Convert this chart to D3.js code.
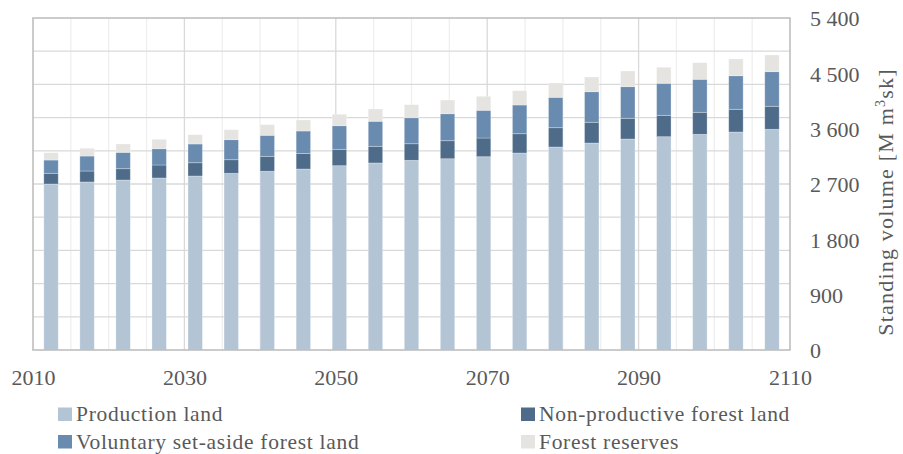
<!DOCTYPE html>
<html>
<head>
<meta charset="utf-8">
<script src="https://cdn.jsdelivr.net/npm/d3@7"></script>
<style>
  html, body { margin: 0; padding: 0; background: #ffffff; }
  svg { display: block; }
  text { font-family: "Liberation Serif", "DejaVu Serif", serif; fill: #595959; }
</style>
</head>
<body>
<svg id="chart" width="903" height="454"></svg>
<script>
// Five-year periods 2010–2110
const periods = ["2010","2015","2020","2025","2030","2035","2040","2045","2050","2055","2060",
                 "2065","2070","2075","2080","2085","2090","2095","2100","2105","2110"];

// Standing volume by land category [M m³sk]
const production    = [2700,2733,2765,2798,2830,2874,2907,2944,2998,3042,3085,3111,3144,3204,3302,3367,3432,3469,3508,3546,3590];
const nonProductive = [174,178,184,211,216,221,243,252,266,271,270,293,304,314,314,337,337,348,358,369,374];
const voluntary     = [216,244,266,265,305,326,342,366,384,407,423,439,451,467,494,497,514,521,537,546,563];
const reserves      = [119,126,136,153,151,162,173,179,186,200,212,223,227,233,233,239,255,260,270,272,271];

const seriesNames = ["Production land", "Non-productive forest land", "Voluntary set-aside forest land", "Forest reserves"];
const seriesKeys  = ["production", "nonProductive", "voluntary", "reserves"];
const seriesColors = ["#b3c4d5", "#4e6c8a", "#6a8bb0", "#e5e4e0"];

// Axis ticks
const yearTicks = [2010, 2030, 2050, 2070, 2090, 2110];
const volumeTicks = [0, 900, 1800, 2700, 3600, 4500, 5400];

const svg = d3.select("#chart");
const plot = { left: 33, right: 790, top: 18, bottom: 350 };

const x = d3.scaleBand().domain(periods).range([plot.left, plot.right])
  .paddingInner(0.6).paddingOuter(0.3);
const xYear = d3.scaleLinear().domain([2010, 2110]).range([plot.left, plot.right]);
const y = d3.scaleLinear().domain([0, 5400]).range([plot.bottom, plot.top]);

const fmt = d3.formatLocale({ decimal: ",", thousands: " ", grouping: [3], currency: ["", ""] }).format(",d");

// Gridlines
const grid = svg.append("g");
grid.selectAll("line.v").data(d3.range(2015, 2110, 5)).join("line")
  .attr("x1", d => xYear(d)).attr("x2", d => xYear(d))
  .attr("y1", plot.top).attr("y2", plot.bottom)
  .attr("stroke", d => (d - 2010) % 20 === 0 ? "#d9d9d9" : "#efefef")
  .attr("stroke-width", 1.3);
grid.selectAll("line.h").data(d3.range(540, 5400, 540)).join("line")
  .attr("x1", plot.left).attr("x2", plot.right)
  .attr("y1", d => y(d)).attr("y2", d => y(d))
  .attr("stroke", "#d9d9d9").attr("stroke-width", 1.3);

// Stacked bars
const table = periods.map((p, i) => ({
  period: p,
  production: production[i],
  nonProductive: nonProductive[i],
  voluntary: voluntary[i],
  reserves: reserves[i]
}));
const stacked = d3.stack().keys(seriesKeys)(table);

svg.append("g").selectAll("g").data(stacked).join("g")
  .attr("fill", (d, i) => seriesColors[i])
  .selectAll("rect").data(d => d).join("rect")
  .attr("x", d => x(d.data.period))
  .attr("width", x.bandwidth())
  .attr("y", d => y(d[1]))
  .attr("height", d => y(d[0]) - y(d[1]))
  .attr("stroke", "rgba(255,255,255,0.35)")
  .attr("stroke-width", 0.8);

// Plot frame
svg.append("rect")
  .attr("x", plot.left).attr("y", plot.top)
  .attr("width", plot.right - plot.left).attr("height", plot.bottom - plot.top)
  .attr("fill", "none").attr("stroke", "#bfbfbf").attr("stroke-width", 1.6);

// X axis labels
const xAxis = svg.append("g").attr("transform", `translate(0,${plot.bottom})`)
  .call(d3.axisBottom(xYear).tickValues(yearTicks).tickFormat(d3.format("d")).tickSize(0).tickPadding(0));
xAxis.select(".domain").remove();
xAxis.selectAll("text")
  .attr("y", 35).attr("dy", 0)
  .style("font-size", "22px")
  .style("font-family", "'Liberation Serif', serif")
  .attr("fill", "#595959");

// Y axis labels (right side)
const yAxis = svg.append("g").attr("transform", `translate(${plot.right},0)`)
  .call(d3.axisRight(y).tickValues(volumeTicks).tickFormat(fmt).tickSize(0).tickPadding(20));
yAxis.select(".domain").remove();
yAxis.selectAll("text")
  .attr("dy", "0.35em")
  .style("font-size", "22px")
  .style("font-family", "'Liberation Serif', serif")
  .attr("fill", "#595959");

// Y axis title
const title = svg.append("text")
  .attr("transform", "translate(893,202) rotate(-90)")
  .attr("text-anchor", "middle")
  .style("font-size", "22px")
  .style("letter-spacing", "1.2px");
title.append("tspan").text("Standing volume [M m");
title.append("tspan").attr("dy", -8).style("font-size", "14px").text("3");
title.append("tspan").attr("dy", 8).text("sk]");

// Legend (two columns, two rows; positions are text baselines)
const legendPos = [
  { x: 58, y: 421 }, { x: 521, y: 421 },
  { x: 58, y: 448.5 }, { x: 521, y: 448.5 }
];
const legendOrder = [0, 1, 2, 3];
const legend = svg.append("g").selectAll("g").data(legendOrder).join("g")
  .attr("transform", (d, i) => `translate(${legendPos[i].x},${legendPos[i].y})`);
legend.append("rect")
  .attr("x", 0).attr("y", -13.5).attr("width", 14).attr("height", 13.5)
  .attr("fill", d => seriesColors[d]);
legend.append("text")
  .attr("x", 18).attr("y", 0)
  .style("font-size", "21.5px")
  .style("letter-spacing", "0.7px")
  .text(d => seriesNames[d]);
</script>
</body>
</html>
